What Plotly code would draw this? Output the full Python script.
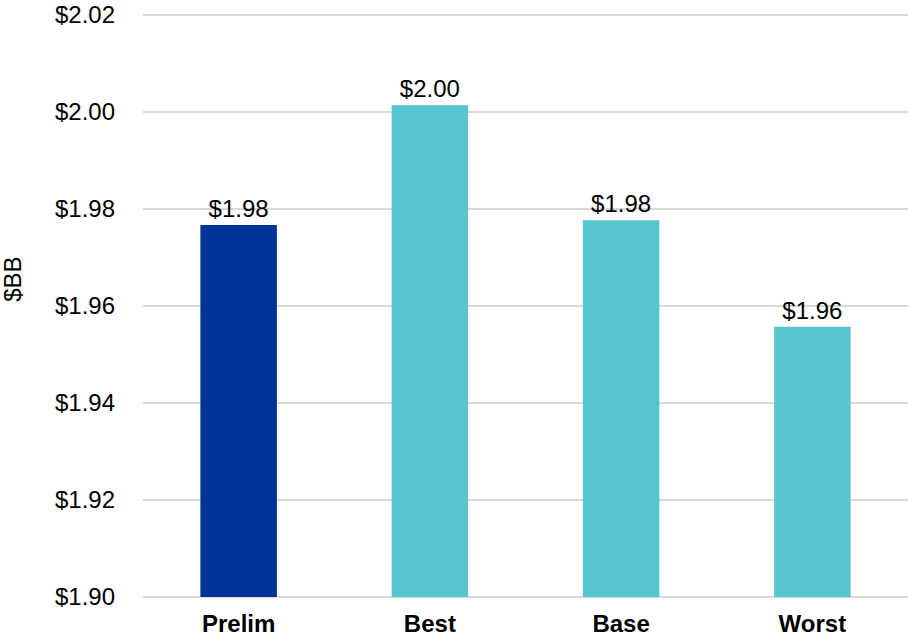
import plotly.graph_objects as go

categories = ["Prelim", "Best", "Base", "Worst"]
values = [1.9767, 2.0014, 1.9777, 1.9557]
bar_colors = ["#003399", "#57C6CE", "#57C6CE", "#57C6CE"]
axis_min = 1.90
tick_vals = [1.90, 1.92, 1.94, 1.96, 1.98, 2.00, 2.02]
tick_text = ["$%.2f" % v for v in tick_vals]
labels = ["$%.2f" % v for v in values]

FONT = "Liberation Sans, Arial, sans-serif"
FS = 24

fig = go.Figure(go.Bar(
    x=categories, y=[v - axis_min for v in values], base=axis_min,
    marker=dict(color=bar_colors, line=dict(width=0)),
    width=0.4,
    text=labels, textposition="outside", cliponaxis=False,
    textfont=dict(family=FONT, size=FS, color="#000000"),
))

fig.update_layout(
    width=909, height=638,
    margin=dict(l=143, r=1, t=12, b=38),
    paper_bgcolor="white", plot_bgcolor="white",
    showlegend=False,
    font=dict(family=FONT, size=FS, color="#000000"),
    xaxis=dict(
        showgrid=False, showline=False, zeroline=False, automargin=False,
        tickfont=dict(family=FONT, size=FS, color="#000000", weight="bold"),
        ticklabelstandoff=7,
    ),
    yaxis=dict(
        range=[1.8994, 2.0206], tickvals=tick_vals, ticktext=tick_text,
        showgrid=True, gridcolor="#D9D9D9", gridwidth=1.5,
        zeroline=False, showline=False, automargin=False,
        tickfont=dict(family=FONT, size=FS, color="#000000"),
        ticklabelstandoff=27,
    ),
    annotations=[dict(
        text="$BB", textangle=-90, showarrow=False,
        xref="paper", yref="y", x=-0.1699, y=1.9654,
        xanchor="center", yanchor="middle",
        font=dict(family=FONT, size=FS, color="#000000"),
    )],
)

fig.write_html("out.html")
